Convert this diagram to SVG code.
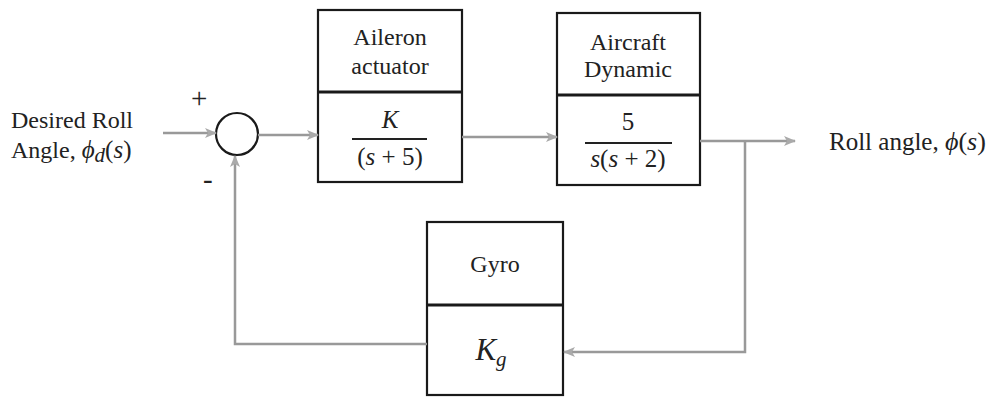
<svg xmlns="http://www.w3.org/2000/svg" width="997" height="397" viewBox="0 0 997 397">
<style>
.box{fill:#fff;stroke:#1a1a1a;stroke-width:2.2}
.div{stroke:#1a1a1a;stroke-width:3}
.t{font-family:"Liberation Serif","DejaVu Serif",serif;font-size:24px;fill:#222;text-anchor:middle}
.l{font-family:"Liberation Serif","DejaVu Serif",serif;font-size:24px;fill:#222}
.m{font-family:"Liberation Serif","DejaVu Serif",serif;font-style:italic;font-size:25px;fill:#222}
.n{font-family:"Liberation Serif","DejaVu Serif",serif;font-size:25px;fill:#222}
.fr{stroke:#222;stroke-width:2}
.c{fill:none;stroke:#999;stroke-width:2.5;marker-end:url(#ah)}
</style>
<defs>
<marker id="ah" viewBox="0 0 12 10" refX="11" refY="5" markerWidth="12" markerHeight="10" markerUnits="userSpaceOnUse" orient="auto">
<path d="M0,0 L12,5 L0,10 L3,5 Z" fill="#aaa"/>
</marker>
</defs>
<g id="input-label">
<text class="l" x="11" y="128">Desired Roll</text>
<text class="l" x="11" y="158">Angle, <tspan class="m">ϕ</tspan><tspan class="m" style="font-size:21px" dy="4">d</tspan><tspan class="n" dy="-4">(</tspan><tspan class="m">s</tspan><tspan class="n">)</tspan></text>
</g>
<g id="sum">
<circle cx="237" cy="134" r="21" fill="#fff" stroke="#1a1a1a" stroke-width="2.2"/>
<text class="l" x="191" y="108" style="font-size:29px">+</text>
<text class="l" x="203" y="189" style="font-size:29px">-</text>
</g>
<g id="aileron">
<rect class="box" x="318" y="10" width="144" height="172"/>
<line class="div" x1="318" y1="92" x2="462" y2="92"/>
<text class="t" x="390" y="45">Aileron</text>
<text class="t" x="390" y="74">actuator</text>
<text class="m" x="390" y="128" text-anchor="middle">K</text>
<line class="fr" x1="352" y1="139" x2="427" y2="139"/>
<text class="n" x="390" y="165" text-anchor="middle">(<tspan class="m">s</tspan> + 5)</text>
</g>
<g id="aircraft">
<rect class="box" x="557" y="13" width="143" height="172"/>
<line class="div" x1="557" y1="95" x2="700" y2="95"/>
<text class="t" x="628" y="50">Aircraft</text>
<text class="t" x="628" y="77">Dynamic</text>
<text class="n" x="628" y="130" text-anchor="middle">5</text>
<line class="fr" x1="585" y1="143" x2="672" y2="143"/>
<text class="n" x="628" y="167" text-anchor="middle"><tspan class="m">s</tspan>(<tspan class="m">s</tspan> + 2)</text>
</g>
<g id="gyro">
<rect class="box" x="427" y="222" width="136" height="173"/>
<line class="div" x1="427" y1="305" x2="563" y2="305"/>
<text class="t" x="495" y="272">Gyro</text>
<text class="m" x="491" y="360" text-anchor="middle" style="font-size:31px">K<tspan style="font-size:21px" dy="6">g</tspan></text>
</g>
<g id="output-label">
<text class="l" x="829" y="150" style="font-size:25px">Roll angle, <tspan class="m" style="font-size:26px">ϕ</tspan><tspan class="n" style="font-size:26px">(</tspan><tspan class="m" style="font-size:26px">s</tspan><tspan class="n" style="font-size:26px">)</tspan></text>
</g>
<g id="connectors">
<path class="c" d="M163,133 H216"/>
<path class="c" d="M258,135 H318"/>
<path class="c" d="M462,137 H557"/>
<path class="c" d="M700,141 H795"/>
<path class="c" d="M745,141 V352 H564"/>
<path class="c" d="M427,344 H235 V156"/>
</g>
</svg>
